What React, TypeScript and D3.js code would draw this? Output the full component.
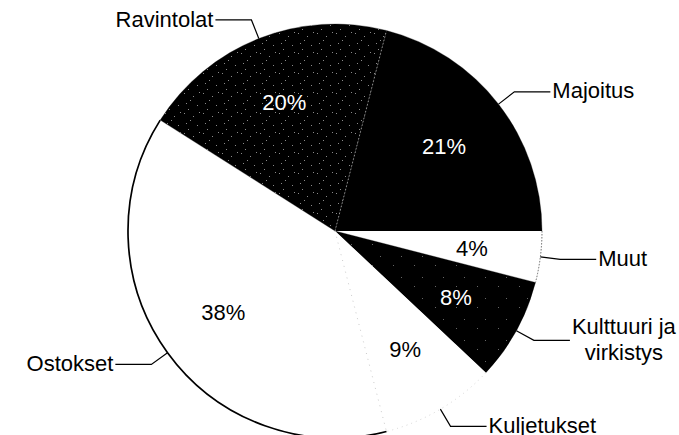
import React from "react";
import * as d3 from "d3";

const categories = ["Majoitus", "Muut", "Kulttuuri ja virkistys", "Kuljetukset", "Ostokset", "Ravintolat"];
const values = [21, 4, 8, 9, 38, 20];
const labelLines = [["Majoitus"], ["Muut"], ["Kulttuuri ja", "virkistys"], ["Kuljetukset"], ["Ostokset"], ["Ravintolat"]];
const pctLabels = ["21%", "4%", "8%", "9%", "38%", "20%"];

const W = 679;
const H = 435;
const CX = 335;
const CY = 231;
const R = 207;
const START_DEG = 14.4;
const FONT = "'Liberation Sans', Arial, sans-serif";
const FS = 22;

const fills = ["#000", "#fff", "url(#speckLight)", "#fff", "#fff", "url(#speckDense)"];
// outer-arc edge style per slice
const edgeStroke = ["none", "#555", "none", "#cfcfcf", "#000", "none"];
const edgeWidth = [0, 0.9, 0, 0.9, 1.7, 0];
const edgeDash = ["", "1.5,1.5", "", "1,4", "", ""];
// radial edge at each slice's start angle
const radialStroke = ["#9a9a9a", "none", "none", "none", "#c4c4c4", "none"];
const radialDash = ["1.5,2", "", "", "", "1,5", ""];
const pctColor = ["#fff", "#000", "#fff", "#000", "#000", "#fff"];

const denseDots = [[1, 2], [10, 5], [3, 12], [14, 14], [7, 9], [16, 1], [5, 18]];
const lightDots = [[3, 4], [16, 13]];

function measure(text: string) {
  const c = document.createElement("canvas").getContext("2d");
  if (!c) return text.length * FS * 0.5;
  c.font = `${FS}px 'Liberation Sans', Arial, sans-serif`;
  return c.measureText(text).width;
}

export default function App() {
  const start = (START_DEG * Math.PI) / 180;
  const pie = d3.pie<number>().sort(null).value((d) => d).startAngle(start).endAngle(start + 2 * Math.PI);
  const arcs = pie(values);
  const arc = d3.arc<d3.PieArcDatum<number>>().innerRadius(0).outerRadius(R);
  const labelArc = d3.arc<d3.PieArcDatum<number>>().innerRadius(138).outerRadius(138);
  const pt = (a: number, r: number) => [r * Math.sin(a), -r * Math.cos(a)];
  const outerPath = (a0: number, a1: number) => {
    const p = d3.path();
    const [x, y] = pt(a0, R);
    p.moveTo(x, y);
    p.arc(0, 0, R, a0 - Math.PI / 2, a1 - Math.PI / 2);
    return p.toString();
  };

  return (
    <svg width={W} height={H} style={{ position: "absolute", left: 0, top: 0, background: "#fff" }}>
      <defs>
        <pattern id="speckDense" width={19} height={20} patternUnits="userSpaceOnUse">
          <rect width={19} height={20} fill="#000" />
          {denseDots.map(([x, y], i) => (
            <rect key={i} x={x} y={y} width={1} height={1} fill="#8a8a8a" />
          ))}
        </pattern>
        <pattern id="speckLight" width={21} height={21} patternUnits="userSpaceOnUse">
          <rect width={21} height={21} fill="#000" />
          {lightDots.map(([x, y], i) => (
            <rect key={i} x={x} y={y} width={1} height={1} fill="#666" />
          ))}
        </pattern>
      </defs>
      <g transform={`translate(${CX},${CY})`}>
        {arcs.map((d, i) => (
          <path key={categories[i]} d={arc(d) || ""} fill={fills[i]} stroke={fills[i] === "#fff" ? "none" : "#000"} strokeWidth={0.3} />
        ))}
        {arcs.map((d, i) =>
          edgeStroke[i] === "none" ? null : (
            <path
              key={"e" + i}
              d={outerPath(d.startAngle, d.endAngle)}
              fill="none"
              stroke={edgeStroke[i]}
              strokeWidth={edgeWidth[i]}
              strokeDasharray={edgeDash[i] || undefined}
            />
          )
        )}
        {arcs.map((d, i) => {
          if (radialStroke[i] === "none") return null;
          const [x, y] = pt(d.startAngle, R);
          return (
            <line
              key={"r" + i}
              x1={0}
              y1={0}
              x2={x}
              y2={y}
              stroke={radialStroke[i]}
              strokeWidth={0.9}
              strokeDasharray={radialDash[i] || undefined}
            />
          );
        })}
        {arcs.map((d, i) => {
          const [x, y] = labelArc.centroid(d);
          return (
            <text
              key={"p" + i}
              x={x}
              y={y}
              dy="0.35em"
              textAnchor="middle"
              fontFamily={FONT}
              fontSize={FS}
              fill={pctColor[i]}
            >
              {pctLabels[i]}
            </text>
          );
        })}
        {arcs.map((d, i) => {
          const mid = (d.startAngle + d.endAngle) / 2;
          const [x0, y0] = pt(mid, R);
          const [x1, y1] = pt(mid, R + 20);
          const side = x1 >= 0 ? 1 : -1;
          const x2 = x1 + side * 36;
          const lines = labelLines[i];
          const maxW = Math.max(...lines.map(measure));
          const lh = 26;
          const tx = side > 0 ? x2 + 2 : x2 - 2;
          return (
            <g key={"l" + i}>
              <polyline points={`${x0},${y0} ${x1},${y1} ${x2},${y1}`} fill="none" stroke="#000" strokeWidth={1.2} />
              {lines.map((ln, j) => {
                const ly = y1 + (j - (lines.length - 1) / 2) * lh;
                const multi = lines.length > 1;
                return (
                  <text
                    key={j}
                    x={multi ? tx + side * (maxW / 2) : tx}
                    y={ly}
                    dy="0.3em"
                    textAnchor={multi ? "middle" : side > 0 ? "start" : "end"}
                    fontFamily={FONT}
                    fontSize={FS}
                    fill="#000"
                  >
                    {ln}
                  </text>
                );
              })}
            </g>
          );
        })}
      </g>
    </svg>
  );
}
